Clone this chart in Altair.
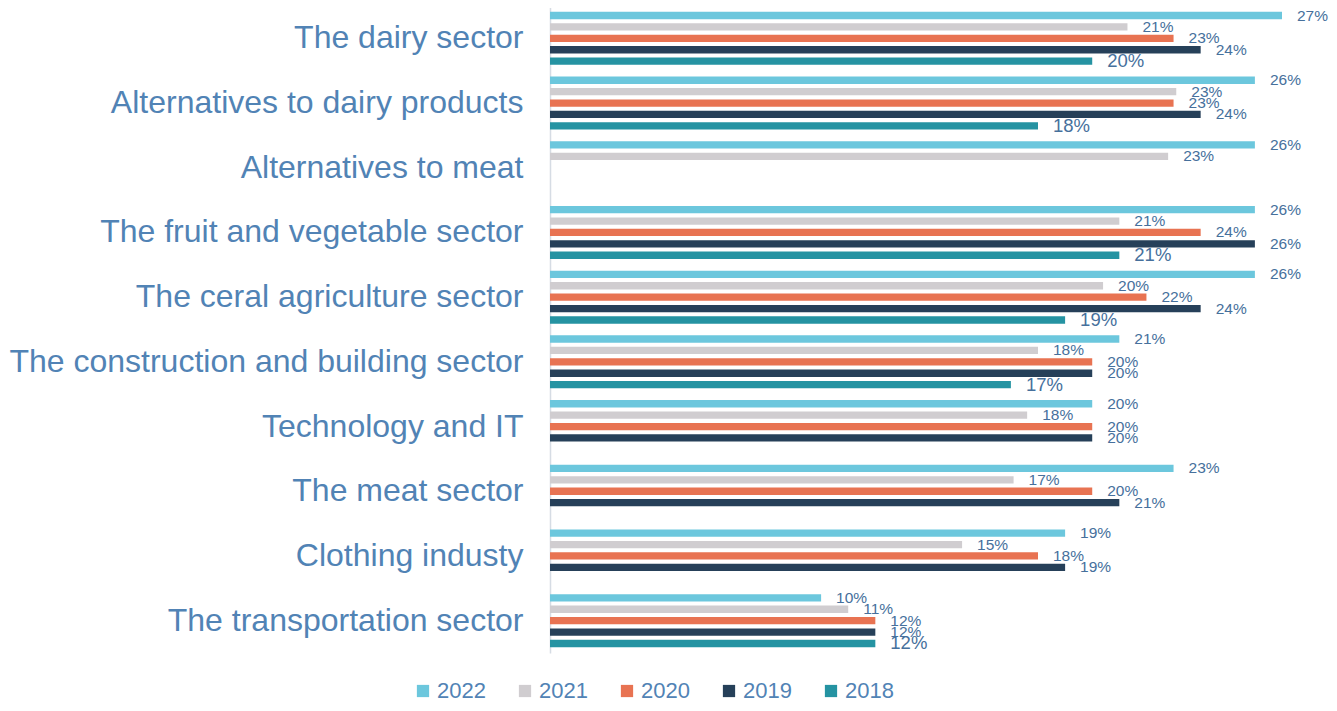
import altair as alt
import pandas as pd

categories = [
    "The dairy sector",
    "Alternatives to dairy products",
    "Alternatives to meat",
    "The fruit and vegetable sector",
    "The ceral agriculture sector",
    "The construction and building sector",
    "Technology and IT ",
    "The meat sector",
    "Clothing industy",
    "The transportation sector",
]
years = ["2022", "2021", "2020", "2019", "2018"]

v2022 = [27, 26, 26, 26, 26, 21, 20, 23, 19, 10]
v2021 = [21.3, 23.1, 22.8, 21, 20.4, 18, 17.6, 17.1, 15.2, 11]
v2020 = [23, 23, None, 24, 22, 20, 20, 20, 18, 12]
v2019 = [24, 24, None, 26, 24, 20, 20, 21, 19, 12]
v2018 = [20, 18, None, 21, 19, 17, None, None, None, 12]

colors = ["#6CC7DD", "#D0CDD0", "#E87352", "#264059", "#2593A2"]

series = {"2022": v2022, "2021": v2021, "2020": v2020, "2019": v2019, "2018": v2018}
rows = []
for y in years:
    for c, v in zip(categories, series[y]):
        if v is not None:
            rows.append({"category": c, "year": y, "value": v})
df = pd.DataFrame(rows)

FONT = "Liberation Sans"
label_blue = "#5183B5"
value_blue = "#46709C"

y_scale = alt.Scale(range=[-2, 645], paddingInner=0.118, paddingOuter=0.059)

y_enc = alt.Y(
    "category:N",
    sort=categories,
    title=None,
    scale=y_scale,
    axis=alt.Axis(
        labelFontSize=32,
        labelColor=label_blue,
        labelFont=FONT,
        labelPadding=27,
        labelLimit=700,
        ticks=False,
        domain=True,
        domainColor="#D6DCE4",
        domainWidth=1.5,
        grid=False,
    ),
)
yoff = alt.YOffset("year:N", sort=years, scale=alt.Scale(paddingInner=0.36, paddingOuter=0.18))
x_enc = alt.X("value:Q", scale=alt.Scale(domain=[0, 27], nice=False, zero=True), axis=None)

base = alt.Chart(df)

bars = base.mark_bar().encode(
    y=y_enc,
    yOffset=yoff,
    x=x_enc,
    color=alt.Color(
        "year:N",
        sort=years,
        scale=alt.Scale(domain=years, range=colors),
        legend=alt.Legend(
            title=None,
            orient="none",
            direction="horizontal",
            columns=5,
            legendX=-138,
            legendY=672,
            symbolType="square",
            symbolSize=150,
            symbolStrokeWidth=0,
            symbolOpacity=1,
            labelFontSize=22,
            labelFont=FONT,
            labelColor=label_blue,
            labelOffset=3,
            columnPadding=28,
        ),
    ),
)

text_small = (
    base.transform_filter("datum.year != '2018'")
    .transform_calculate(label="format(round(datum.value), 'd') + '%'")
    .mark_text(align="left", baseline="middle", dx=15, fontSize=15.5, font=FONT, color=value_blue)
    .encode(y=alt.Y("category:N", sort=categories, scale=y_scale), yOffset=yoff, x=x_enc, text="label:N")
)
text_big = (
    base.transform_filter("datum.year == '2018'")
    .transform_calculate(label="format(round(datum.value), 'd') + '%'")
    .mark_text(align="left", baseline="middle", dx=15, fontSize=18.5, font=FONT, color=value_blue)
    .encode(y=alt.Y("category:N", sort=categories, scale=y_scale), yOffset=yoff, x=x_enc, text="label:N")
)

chart = (
    alt.layer(bars, text_small, text_big)
    .properties(
        width=732,
        height=647,
        autosize=alt.AutoSizeParams(type="none"),
        padding={"left": 542, "top": 0, "right": 47, "bottom": 48},
    )
    .configure(font=FONT, background="white")
    .configure_view(stroke=None, strokeWidth=0)
)

chart.save("out.html", embed_options={"renderer": "svg", "actions": False})
